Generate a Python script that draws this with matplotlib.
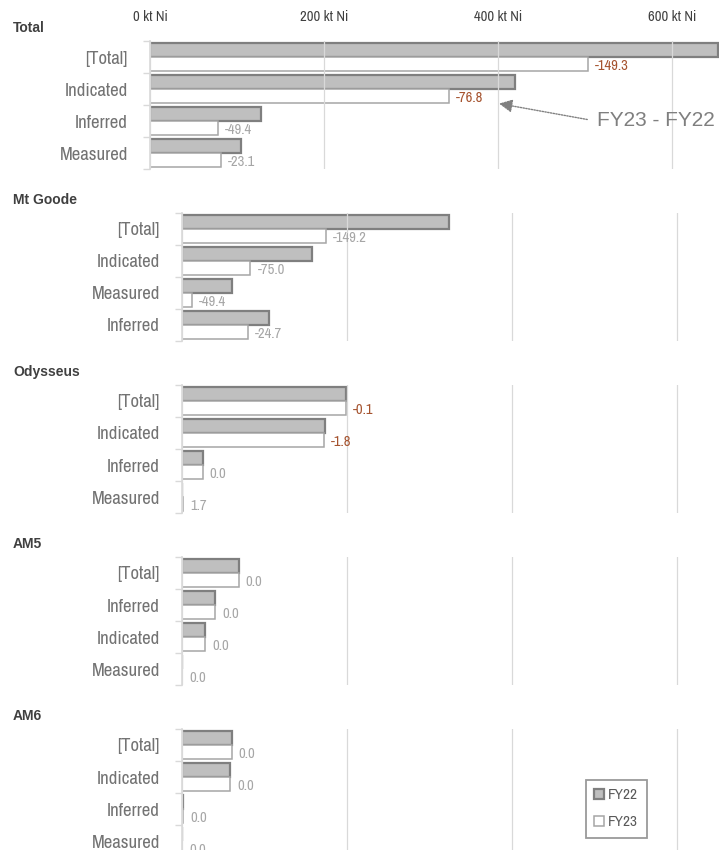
import matplotlib
matplotlib.use("Agg")
import matplotlib.pyplot as plt
from matplotlib import font_manager

# pick a narrow font if there is one
fonts = font_manager.fontManager.ttflist
narrow = [f for f in fonts if 'narrow' in f.name.lower() or 'condensed' in f.name.lower()]
cond = [f for f in fonts if f.stretch in ('condensed', 'semi-condensed', 'extra-condensed', 700, 600)]
if narrow:
    NARROW = narrow[0].name
    STRETCH = 'normal'
elif cond:
    NARROW = cond[0].name
    STRETCH = 'condensed'
else:
    NARROW = 'DejaVu Sans'
    STRETCH = 'normal'
plt.rcParams['font.family'] = [NARROW, 'DejaVu Sans']
plt.rcParams['font.stretch'] = STRETCH

W, H = 719, 850

# ---- data (kt Ni), rows listed top to bottom ----
panel_names = ["Total", "Mt Goode", "Odysseus", "AM5", "AM6"]

total_cats = ["[Total]", "Indicated", "Inferred", "Measured"]
total_fy22 = [653.0, 420.0, 128.0, 105.0]
total_fy23 = [503.7, 343.2, 78.6, 81.9]

mtgoode_cats = ["[Total]", "Indicated", "Measured", "Inferred"]
mtgoode_fy22 = [324.0, 158.0, 61.0, 105.0]
mtgoode_fy23 = [174.8, 83.0, 11.6, 80.3]

odysseus_cats = ["[Total]", "Indicated", "Inferred", "Measured"]
odysseus_fy22 = [198.5, 173.6, 24.9, 0.0]
odysseus_fy23 = [198.4, 171.8, 24.9, 1.7]

am5_cats = ["[Total]", "Inferred", "Indicated", "Measured"]
am5_fy22 = [68.6, 40.3, 28.3, 0.0]
am5_fy23 = [68.6, 40.3, 28.3, 0.0]

am6_cats = ["[Total]", "Indicated", "Inferred", "Measured"]
am6_fy22 = [60.2, 58.6, 1.6, 0.0]
am6_fy23 = [60.2, 58.6, 1.6, 0.0]

x_ticks = [0, 200, 400, 600]
x_tick_labels = ["0 kt Ni", "200 kt Ni", "400 kt Ni", "600 kt Ni"]

panels = [
    (total_cats, total_fy22, total_fy23),
    (mtgoode_cats, mtgoode_fy22, mtgoode_fy23),
    (odysseus_cats, odysseus_fy22, odysseus_fy23),
    (am5_cats, am5_fy22, am5_fy23),
    (am6_cats, am6_fy22, am6_fy23),
]

# labels drawn in brown rather than grey
highlight = {(0, 0), (0, 1), (2, 0), (2, 1)}

# ---- layout (pixels) ----
tops = [41, 213, 385, 557, 729]
lefts = [150, 182, 182, 182, 182]
xmaxs = [654, 651, 651, 651, 651]
PANEL_H = 128

GRID = '#d9d9d9'
TXT = '#595959'

fig = plt.figure(figsize=(W / 100, H / 100), dpi=100)


def rect(left, top, right, bottom):
    return [left / W, 1 - bottom / H, (right - left) / W, (bottom - top) / H]


axes = []
for p, (cats, fy22, fy23) in enumerate(panels):
    ax = fig.add_axes(rect(lefts[p], tops[p], W, tops[p] + PANEL_H))
    axes.append(ax)
    n = len(cats)
    ys = list(range(n))
    b22 = ax.barh([y - 0.225 for y in ys], fy22, height=0.45, color='#bfbfbf',
                  edgecolor='#7f7f7f', linewidth=1.6, zorder=2, label='FY22')
    b23 = ax.barh([y + 0.225 for y in ys], fy23, height=0.45, color='white',
                  edgecolor='#a6a6a6', linewidth=1.1, zorder=2, label='FY23')
    for i in ys:
        diff = fy23[i] - fy22[i]
        col = '#a5532f' if (p, i) in highlight else '#a6a6a6'
        ax.annotate(f"{diff:.1f}", xy=(fy23[i], i + 0.27), xytext=(5, 0),
                    textcoords='offset points', va='center', ha='left',
                    fontsize=10.5, color=col)

    ax.set_xlim(0, xmaxs[p])
    ax.set_ylim(n - 0.5, -0.5)
    ax.set_xticks(x_ticks)
    ax.grid(axis='x', color=GRID, linewidth=0.9, zorder=3)
    ax.set_axisbelow(False)

    # category separators as major ticks, names as minor ticks
    ax.set_yticks([y - 0.5 for y in range(n + 1)])
    ax.set_yticklabels([])
    ax.set_yticks(ys, minor=True)
    ax.set_yticklabels(cats, minor=True)
    ax.tick_params(axis='y', which='major', length=5, color=GRID, width=1)
    ax.tick_params(axis='y', which='minor', length=0, pad=16, labelsize=13.5,
                   labelcolor='#737373')

    if p == 0:
        ax.xaxis.tick_top()
        ax.set_xticklabels(x_tick_labels)
        ax.tick_params(axis='x', length=0, pad=12, labelsize=10.5, labelcolor='#404040')
    else:
        ax.tick_params(axis='x', length=0, labelbottom=False)

    for s in ['top', 'right', 'bottom']:
        ax.spines[s].set_visible(False)
    ax.spines['left'].set_color(GRID)
    ax.spines['left'].set_linewidth(1.2)

    fig.text(13 / W, 1 - (tops[p] - 13) / H, panel_names[p], fontsize=10,
             fontweight='bold', color='#404040', va='center', ha='left',
             family=['Liberation Sans', 'DejaVu Sans'], stretch='normal')

# note on the total panel
axes[0].annotate("", xy=(398, 1.44), xycoords='data',
                 xytext=(590, H - 120), textcoords='figure pixels',
                 arrowprops=dict(arrowstyle='-|>', linestyle=(0, (1, 1)),
                                 color='#808080', lw=1, mutation_scale=20))
fig.text(597 / W, 1 - 120 / H, "FY23 - FY22", fontsize=15, color='#7f7f7f',
         family=['Liberation Sans', 'DejaVu Sans'], stretch='normal',
         va='center', ha='left')

leg = fig.legend(handles=[b22, b23], loc='upper left',
                 bbox_to_anchor=(586 / W, 1 - 780 / H), fontsize=11,
                 frameon=True, fancybox=False, edgecolor='#808080',
                 handlelength=0.6, handleheight=0.6, handletextpad=0.3,
                 labelspacing=0.85, borderpad=0.55, borderaxespad=0)
leg.get_frame().set_linewidth(1.3)
for t in leg.get_texts():
    t.set_color(TXT)

fig.savefig("out.png", dpi=100)
